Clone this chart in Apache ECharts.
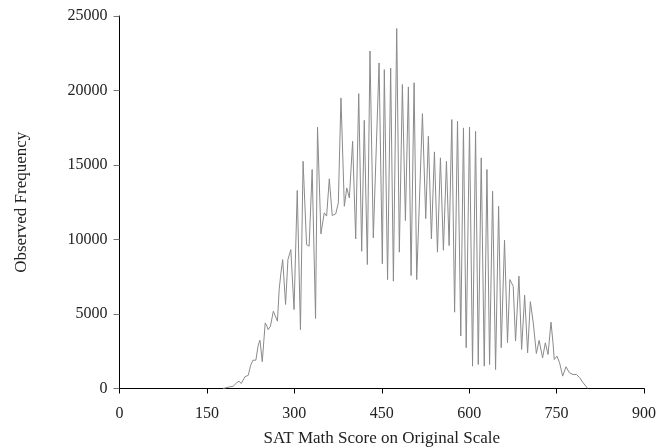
<!DOCTYPE html>
<html>
<head>
<meta charset="utf-8">
<script src="https://cdn.jsdelivr.net/npm/echarts@6/dist/echarts.min.js"></script>
<style>html,body{margin:0;padding:0;background:#fff}#c{width:668px;height:447px}</style>
</head>
<body>
<div id="c"></div>
<script>
const scores = [178,189,195,201,205,209,215,221,225,229,234,238,241,245,250,253,255,259,264,267,271,274,277,280,285,289,294,299.5,305,310.5,315,321,325.4,330.6,336.4,339.8,345.6,351.3,355.4,360,365,371,375.5,380,385.8,390,394.4,400,405.3,410.5,415.6,420,425.3,429.8,435.5,445.4,451,454.4,460,465.3,470,475.7,480.2,485.4,490.6,495.7,500.3,505.5,510,519.8,525.5,530,535.2,540.4,545.6,550.7,555.8,561,565.6,570.2,575,580,585.6,590.2,594.9,600.6,605.8,611,615.6,620.7,625.9,630.5,635,640.2,645.3,650.5,655,660.7,665.8,669.8,672,675.6,679.6,685.4,690,695.2,700.3,705,710,715.3,720,726,730.7,735.3,740.4,743.8,746,750.7,755.2,760.4,766.2,771.9,778.3,784,789.8,795.6,803.5];
const freqs = [0,110,150,380,490,335,780,890,1560,1900,1900,2900,3240,1800,4400,4180,3950,4180,5190,5300,4520,6640,7760,8650,5640,8650,9320,5300,13290,3950,15250,9660,9550,14700,4700,17530,10380,11790,11570,14070,11610,11720,12460,19500,12230,13460,12790,16590,10040,19790,9210,18000,8320,22650,10110,21850,8370,21400,7310,21510,7200,24160,9150,20400,11270,20240,7580,20520,7310,18450,11400,16930,10040,15880,9150,15480,9280,15250,9590,18050,5120,17940,3520,17490,2740,17550,1500,17260,1610,15480,1500,14700,1610,13240,1270,12230,2740,9950,3080,7310,7200,6860,3190,7540,2620,6260,2400,5830,4400,2350,3230,2060,3070,2280,4450,3070,1950,2170,1720,830,1460,1060,940,940,720,380,0];
const xTicks = [0,150,300,450,600,750,900];
const yTicks = [0,5000,10000,15000,20000,25000];

const font = "'Liberation Serif', 'DejaVu Serif', serif";
const chart = echarts.init(document.getElementById('c'));
chart.setOption({
  animation: false,
  backgroundColor: '#fff',
  grid: {left: 119.5, right: 24, top: 16, bottom: 58.5, outerBoundsMode: 'none', containLabel: false},
  xAxis: [{
    type: 'value', min: xTicks[0], max: xTicks[xTicks.length-1], interval: 150,
    name: 'SAT Math Score on Original Scale', nameLocation: 'middle', nameGap: 42,
    nameTextStyle: {fontFamily: font, fontSize: 17, color: '#222'},
    axisLine: {show: true, lineStyle: {color: '#000', width: 1}},
    axisTick: {show: true, length: 5, lineStyle: {color: '#000'}},
    axisLabel: {fontFamily: font, fontSize: 16, color: '#222', margin: 17, formatter: v => String(v)},
    splitLine: {show: false}
  }, {
    type: 'value', position: 'top', min: 0, max: 900,
    axisLine: {show: true, lineStyle: {color: '#000', width: 1}},
    axisTick: {show: false}, axisLabel: {show: false}, splitLine: {show: false}
  }],
  yAxis: [{
    type: 'value', min: yTicks[0], max: yTicks[yTicks.length-1], interval: 5000,
    name: 'Observed Frequency', nameLocation: 'middle', nameGap: 89,
    nameTextStyle: {fontFamily: font, fontSize: 17, color: '#222'},
    axisLine: {show: true, lineStyle: {color: '#d0d0d0', width: 1}},
    axisTick: {show: true, length: 6, lineStyle: {color: '#777'}},
    axisLabel: {fontFamily: font, fontSize: 16, color: '#222', margin: 12, formatter: v => String(v)},
    splitLine: {show: false}
  }, {
    type: 'value', position: 'right', min: 0, max: 25000,
    axisLine: {show: true, lineStyle: {color: '#000', width: 1}},
    axisTick: {show: false}, axisLabel: {show: false}, splitLine: {show: false}
  }],
  series: [{
    type: 'line',
    data: scores.map((s, i) => [s, freqs[i]]),
    showSymbol: false, symbol: 'none',
    lineStyle: {color: '#8a8a8a', width: 1},
    silent: true
  }]
});
</script>
</body>
</html>
